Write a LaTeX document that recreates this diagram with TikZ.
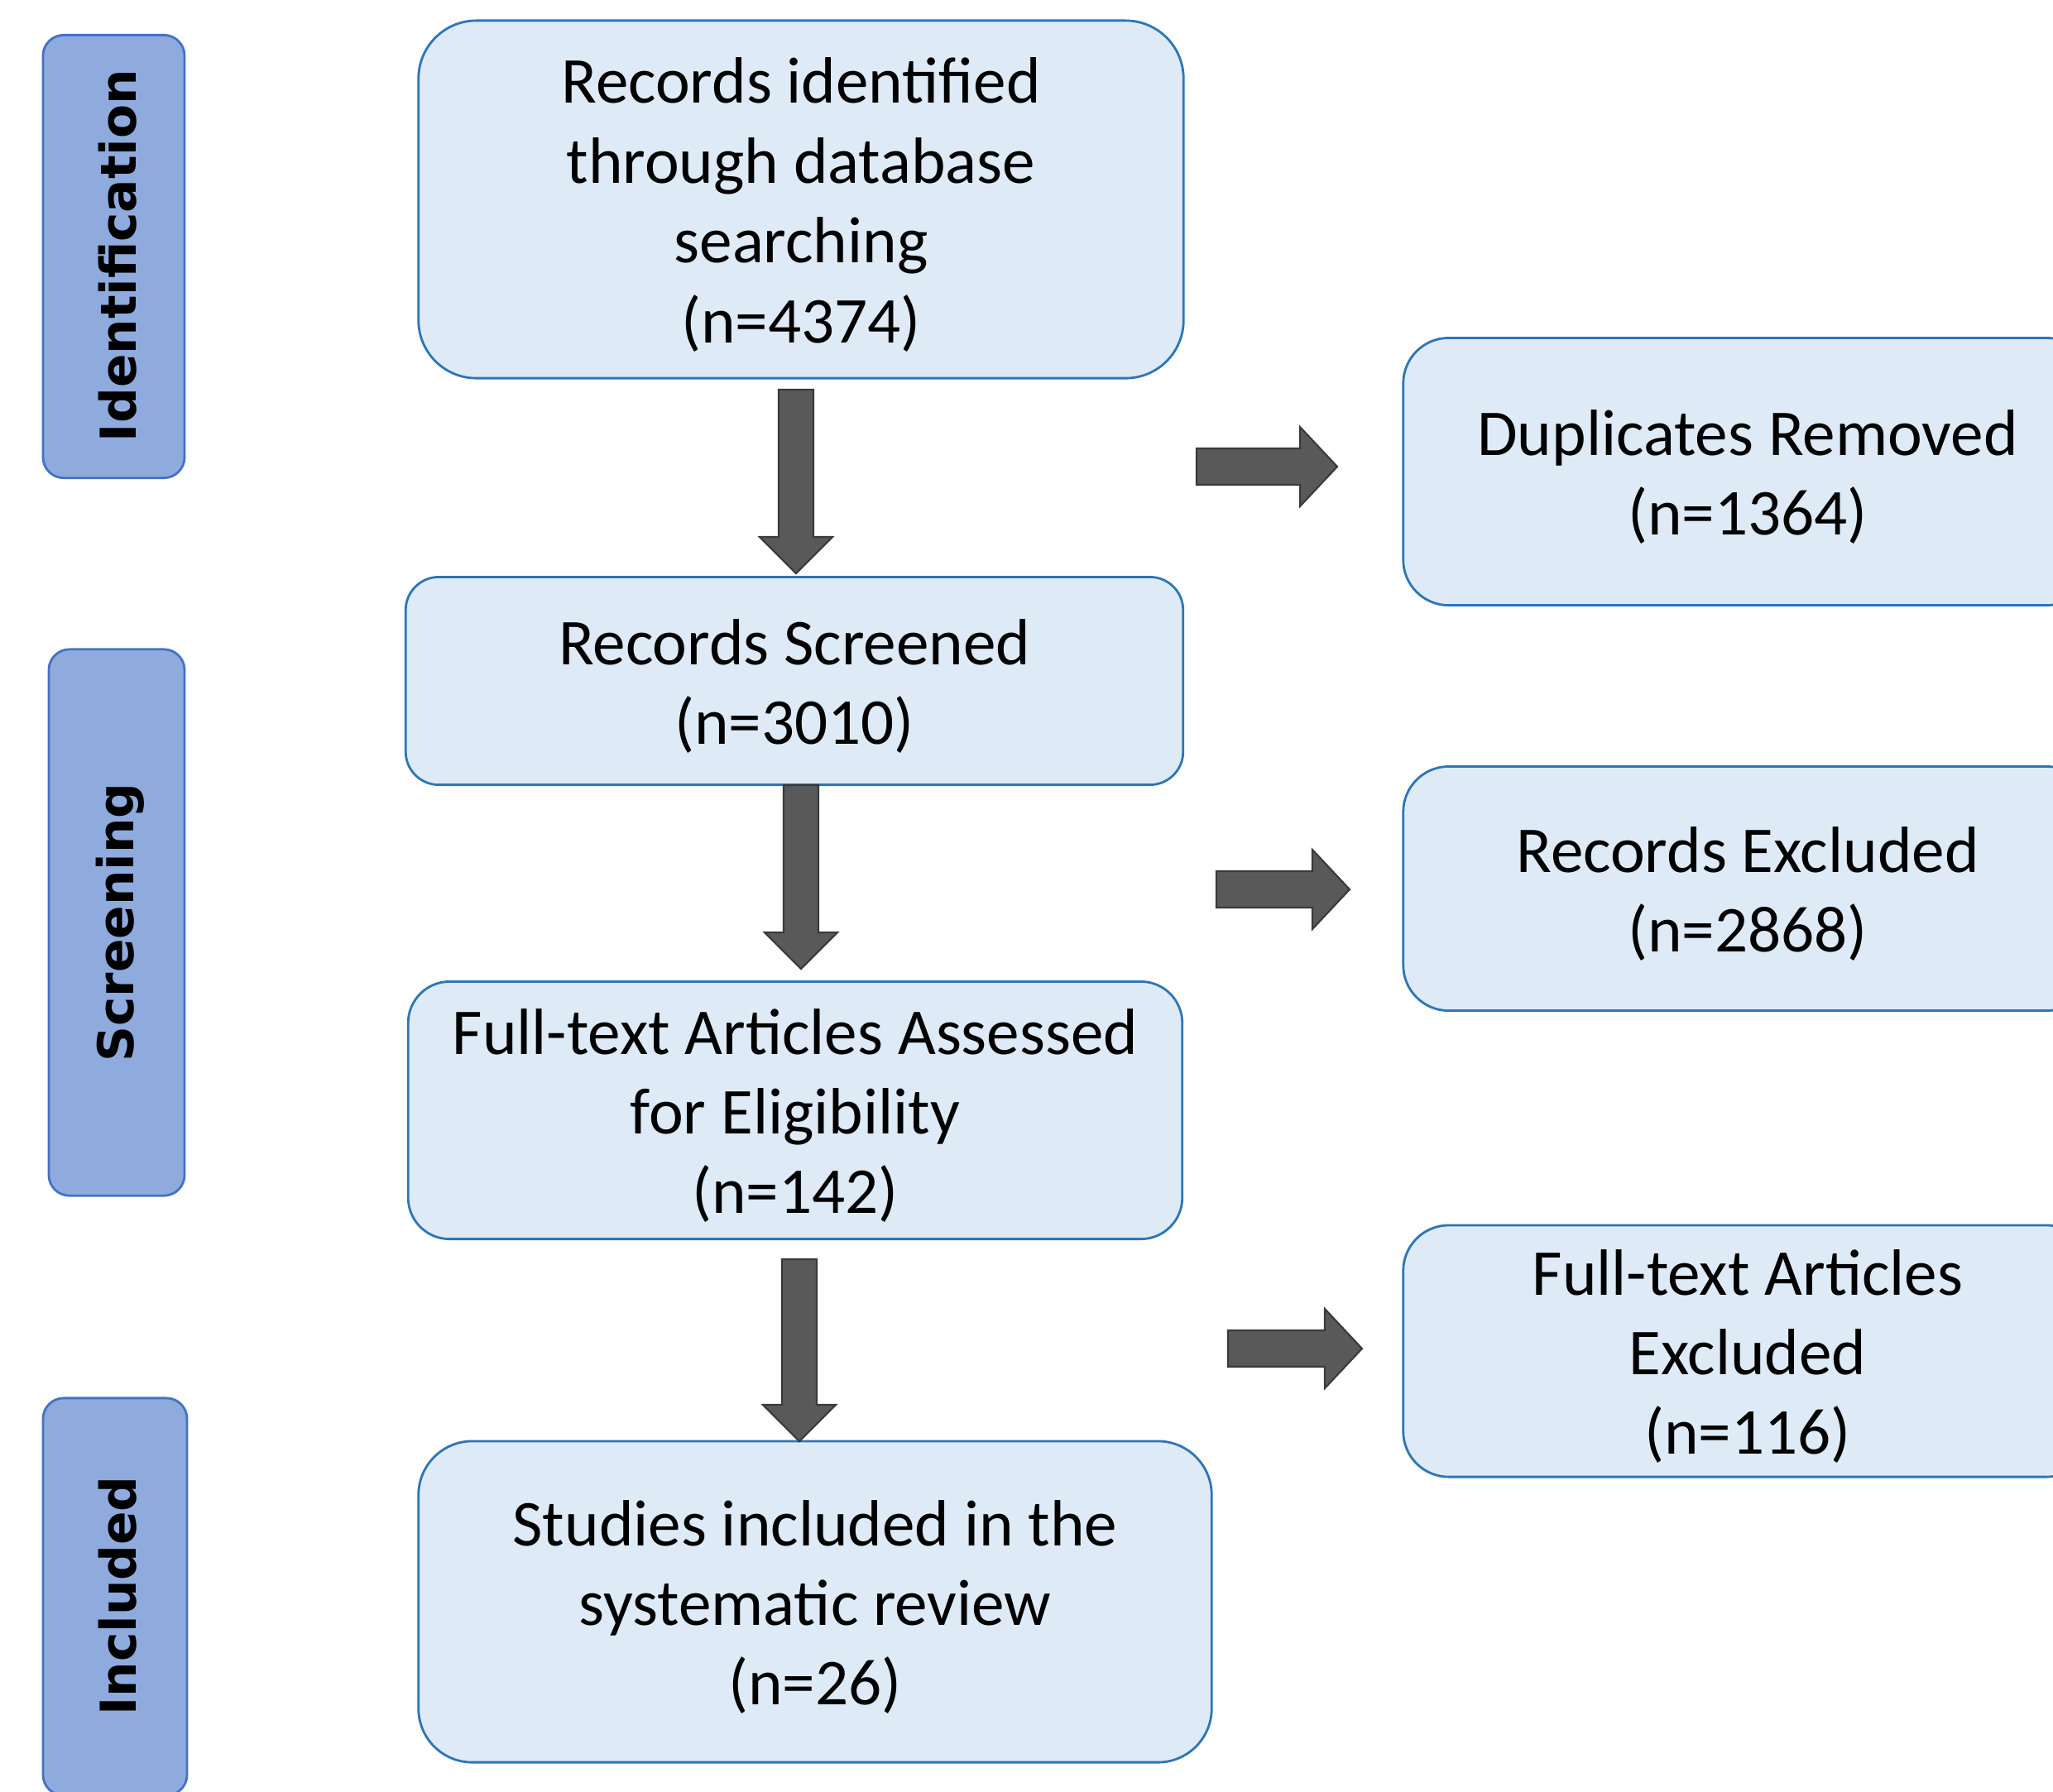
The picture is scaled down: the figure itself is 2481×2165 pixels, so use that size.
\documentclass[tikz,border=0pt]{standalone}
\usepackage{fontspec}
\setmainfont{Carlito}
\newfontfamily\stagefont{DejaVu Sans}
\usetikzlibrary{positioning}

\definecolor{boxfill}{HTML}{DEEBF7}
\definecolor{boxline}{HTML}{2E75B6}
\definecolor{stagefill}{HTML}{8FAADC}
\definecolor{stageline}{HTML}{4472C4}
\definecolor{arrowfill}{HTML}{595959}
\definecolor{arrowline}{HTML}{3A3A3A}

% top strut for the box texts
\newcommand{\boxstrut}{\rule{0pt}{19.3pt}}
% block arrows between two named coordinates
\newcommand{\fatdown}[2]{\filldraw[blockarrow] ([xshift=-2.1mm]#1) -- ([xshift=2.1mm]#1) -- ([xshift=2.1mm,yshift=4.4mm]#2) -- ([xshift=4.4mm,yshift=4.4mm]#2) -- (#2) -- ([xshift=-4.4mm,yshift=4.4mm]#2) -- ([xshift=-2.1mm,yshift=4.4mm]#2) -- cycle;}
\newcommand{\fatright}[2]{\filldraw[blockarrow] ([yshift=2.2mm]#1) -- ([xshift=-4.5mm,yshift=2.2mm]#2) -- ([xshift=-4.5mm,yshift=4.8mm]#2) -- (#2) -- ([xshift=-4.5mm,yshift=-4.8mm]#2) -- ([xshift=-4.5mm,yshift=-2.2mm]#2) -- ([yshift=-2.2mm]#1) -- cycle;}

\begin{document}
\begin{tikzpicture}[x=0.01cm,y=-0.01cm,
  every node/.style={inner sep=0pt},
  flowbox/.style={draw=boxline,fill=boxfill,line width=0.8pt,align=center,
    font=\fontsize{22.5}{27.4}\selectfont},
  stagebox/.style={draw=stageline,fill=stagefill,line width=0.8pt,rounded corners=0.25cm},
  stagetext/.style={rotate=90,font=\stagefont\bfseries\fontsize{17}{20}\selectfont},
  blockarrow/.style={fill=arrowfill,draw=arrowline,line width=0.6pt}]
\useasboundingbox (0,0) rectangle (2481,2165);
\clip (0,0) rectangle (2481,2165);

% stages
\node[stagebox,minimum width=1.71cm,minimum height=5.35cm] (ident) at (137.5,310) {};
\node[stagetext] at (142,309) {Identification};
\node[stagebox,minimum width=1.64cm,minimum height=6.60cm] (screen) at (141,1115) {};
\node[stagetext] at (145,1115) {Screening};
\node[stagebox,minimum width=1.74cm,minimum height=4.80cm] (incl) at (139,1930) {};
\node[stagetext] at (142,1929) {Included};

% main column
\node[flowbox,rounded corners=0.7cm,minimum width=9.24cm,minimum height=4.32cm] (found) at (968,241)
  {\boxstrut Records identified\\through database\\searching\\(n=4374)};
\node[flowbox,rounded corners=0.4cm,minimum width=9.39cm,minimum height=2.51cm] (screened) at (960,823)
  {\boxstrut Records Screened\\(n=3010)};
\node[flowbox,rounded corners=0.5cm,minimum width=9.35cm,minimum height=3.11cm] (assessed) at (961,1342)
  {\boxstrut Full-text Articles Assessed\\for Eligibility\\(n=142)};
\node[flowbox,rounded corners=0.65cm,minimum width=9.58cm,minimum height=3.88cm] (studies) at (985,1936)
  {\boxstrut Studies included in the\\systematic review\\(n=26)};

% side column
\node[flowbox,rounded corners=0.55cm,minimum width=8.32cm,minimum height=3.23cm] (dupl) at (2112,570)
  {\boxstrut Duplicates Removed\\(n=1364)};
\node[flowbox,rounded corners=0.55cm,minimum width=8.32cm,minimum height=2.95cm] (recex) at (2112,1074)
  {\boxstrut Records Excluded\\(n=2868)};
\node[flowbox,rounded corners=0.55cm,minimum width=8.32cm,minimum height=3.04cm] (fullex) at (2112,1633)
  {\boxstrut Full-text Articles\\Excluded\\(n=116)};

% arrow ends
\coordinate (d1s) at (962,471);
\coordinate (d1e) at (962,693);
\coordinate (d2s) at (968,949);
\coordinate (d2e) at (968,1171);
\coordinate (d3s) at (966,1522);
\coordinate (d3e) at (966,1742);
\coordinate (r1s) at (1446,564);
\coordinate (r1e) at (1616,564);
\coordinate (r2s) at (1470,1075);
\coordinate (r2e) at (1631,1075);
\coordinate (r3s) at (1484,1630);
\coordinate (r3e) at (1646,1630);

\fatdown{d1s}{d1e}
\fatdown{d2s}{d2e}
\fatdown{d3s}{d3e}
\fatright{r1s}{r1e}
\fatright{r2s}{r2e}
\fatright{r3s}{r3e}
\end{tikzpicture}
\end{document}
